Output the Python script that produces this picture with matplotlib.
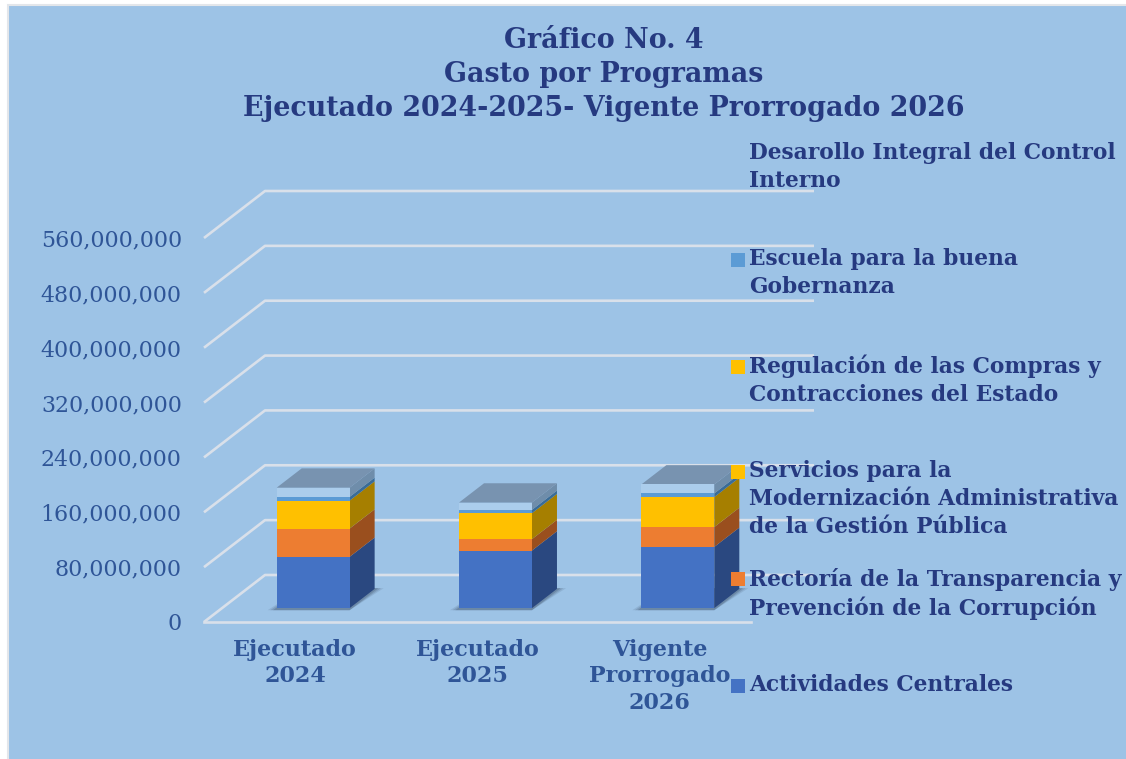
import matplotlib
matplotlib.use("Agg")
import matplotlib.pyplot as plt
from matplotlib.patches import Rectangle

categories = ["Ejecutado\n2024", "Ejecutado\n2025", "Vigente\nProrrogado\n2026"]
actividades = [74.8e6, 84.0e6, 89.3e6]
rectoria = [41.2e6, 16.6e6, 29.0e6]
servicios = [40.8e6, 37.9e6, 43.7e6]
escuela = [5.4e6, 4.8e6, 5.3e6]
desarrollo = [13.5e6, 10.7e6, 13.1e6]
y_ticks = [0, 80e6, 160e6, 240e6, 320e6, 400e6, 480e6, 560e6]

series = [actividades, rectoria, servicios, escuela, desarrollo]
front_colors = ["#4472C4", "#ED7D31", "#FFC000", "#5B9BD5", "#ABCDEC"]
side_colors = ["#2A4880", "#9A4F1E", "#A67F00", "#3A6C97", "#6F8DAA"]
top_color = "#7893B0"

legend_items = [
    ("Desarollo Integral del Control\nInterno", None, 167),
    ("Escuela para la buena\nGobernanza", "#5B9BD5", 273),
    ("Regulación de las Compras y\nContracciones del Estado", "#FFC000", 380),
    ("Servicios para la\nModernización Administrativa\nde la Gestión Pública", "#FFC000", 499),
    ("Rectoría de la Transparencia y\nPrevención de la Corrupción", "#ED7D31", 594),
    ("Actividades Centrales", "#4472C4", 685),
]

W, H = 1126, 759
TITLE = "#263A80"
AXIS = "#2F5597"
GRID = "#D9E0EA"
PANEL = "#9DC3E6"
FONT = "DejaVu Serif"

fig = plt.figure(figsize=(W / 100, H / 100), dpi=100, facecolor="white")
fig.add_artist(Rectangle((8 / W, -10 / H), (W + 10) / W, (H + 5) / H, transform=fig.transFigure,
                         facecolor=PANEL, edgecolor="#E3E6EA", linewidth=1.5, zorder=-1))

ax = fig.add_axes([204 / W, (H - 622) / H, 547 / W, 384 / H])
ax.patch.set_alpha(0)
ax.set_xlim(-0.5, 2.5)
ax.set_ylim(0, 560e6)
for s in ax.spines.values():
    s.set_visible(False)

# oblique projection of the floor, in data units
depth_x = 61 / 547 * 3
depth_y = 47 / 384 * 560e6
back_end = -0.5 + (814 - 204) / 547 * 3

# Gridlines
for v in y_ticks:
    ax.plot([-0.5, -0.5 + depth_x, back_end], [v, v + depth_y, v + depth_y],
            color=GRID, lw=1.9, clip_on=False, zorder=1, solid_capstyle="butt")
ax.plot([-0.5, 2.5], [0, 0], color=GRID, lw=1.9, clip_on=False, zorder=1)

# Bars
bar_w = 0.4
d0 = 0.295
d1 = 0.705
for i in range(len(categories)):
    x0 = i + d0 * depth_x - bar_w / 2
    x1 = x0 + bar_w
    base = d0 * depth_y
    ddx = (d1 - d0) * depth_x
    ddy = (d1 - d0) * depth_y

    # shadow on the floor
    for grow, alpha in [(0.05, 0.14), (0.035, 0.2), (0.02, 0.28)]:
        ax.fill([x0 - grow, x1, x1 + ddx + grow, x0 + ddx],
                [base - 3e6, base - 3e6, base + ddy + 1e6, base + ddy + 1e6],
                color="#3C5068", alpha=alpha, lw=0, clip_on=False, zorder=2)

    bottom = base
    for vals, fc, sc in zip(series, front_colors, side_colors):
        v = vals[i]
        ax.bar(x0 + bar_w / 2, v, bar_w, bottom=bottom, color=fc, linewidth=0,
               clip_on=False, zorder=4)
        ax.fill([x1, x1 + ddx, x1 + ddx, x1],
                [bottom, bottom + ddy, bottom + v + ddy, bottom + v],
                color=sc, lw=0, clip_on=False, zorder=3)
        bottom += v
    ax.fill([x0, x1, x1 + ddx, x0 + ddx], [bottom, bottom, bottom + ddy, bottom + ddy],
            color=top_color, lw=0, clip_on=False, zorder=3)

# Axis labels
ax.set_yticks(y_ticks)
ax.set_yticklabels([f"{int(v):,}" for v in y_ticks], fontfamily=FONT, fontsize=15.9, color=AXIS)
ax.set_xticks(range(len(categories)))
ax.set_xticklabels(categories, fontfamily=FONT, fontsize=16, fontweight="bold", color=AXIS,
                   linespacing=1.28)
ax.tick_params(axis="y", length=0, pad=16)
ax.tick_params(axis="x", length=0, pad=12)

# Title
fig.text(604 / W, 1 - 74.5 / H, "Gráfico No. 4\nGasto por Programas\nEjecutado 2024-2025- Vigente Prorrogado 2026",
         ha="center", va="center", fontfamily=FONT, fontweight="bold", fontsize=19.4, color=TITLE,
         linespacing=1.31)

# Legend
for label, color, yc in legend_items:
    fig.text(749 / W, 1 - yc / H, label, ha="left", va="center", fontfamily=FONT,
             fontweight="bold", fontsize=15.7, color=TITLE, linespacing=1.33, zorder=6)

marker_y = [260, 367, 472, 579, 686]
marker_c = [c for _, c, _ in legend_items if c]
for yc, c in zip(marker_y, marker_c):
    fig.add_artist(Rectangle((731 / W, 1 - (yc + 7) / H), 14 / W, 14 / H, transform=fig.transFigure,
                             facecolor=c, edgecolor="none", zorder=6))

fig.savefig("out.png", dpi=100)
